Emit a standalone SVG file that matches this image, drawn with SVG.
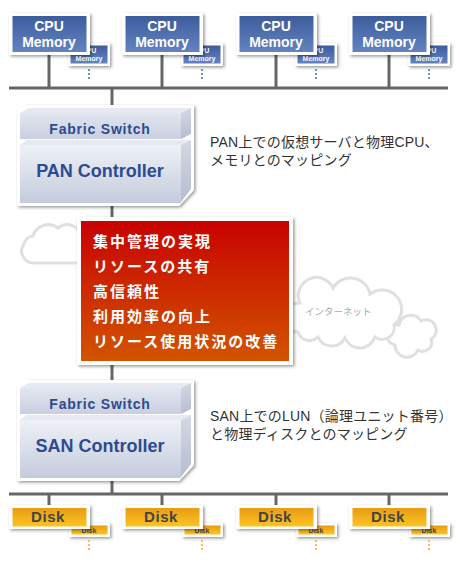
<svg xmlns="http://www.w3.org/2000/svg" width="460" height="565" viewBox="0 0 460 565">
<defs>
<filter id="sh" x="-20%" y="-20%" width="150%" height="160%">
<feDropShadow dx="1.5" dy="1.5" stdDeviation="1.5" flood-color="#000" flood-opacity="0.4"/>
</filter>
<linearGradient id="gBlue" x1="0" y1="0" x2="0" y2="1">
<stop offset="0" stop-color="#3e5c9c"/><stop offset="1" stop-color="#6283c0"/>
</linearGradient>
<linearGradient id="gOr" x1="0" y1="0" x2="0" y2="1">
<stop offset="0" stop-color="#e89c14"/><stop offset="1" stop-color="#fcc424"/>
</linearGradient>
<linearGradient id="gRed" x1="0" y1="0" x2="0" y2="1">
<stop offset="0" stop-color="#c80200"/><stop offset="1" stop-color="#d25400"/>
</linearGradient>
<linearGradient id="gFront" x1="0" y1="0" x2="0" y2="1">
<stop offset="0" stop-color="#eef1f7"/><stop offset="1" stop-color="#c5cbdc"/>
</linearGradient>
<linearGradient id="gBand" x1="0" y1="0" x2="0" y2="1">
<stop offset="0" stop-color="#e2e6f0"/><stop offset="1" stop-color="#c9cfdf"/>
</linearGradient>
<linearGradient id="gSide" x1="0" y1="0" x2="0" y2="1">
<stop offset="0" stop-color="#d3d8e4"/><stop offset="1" stop-color="#b6bdcf"/>
</linearGradient>
<style>
.line{stroke:#666;stroke-width:3;fill:none}
.white{fill:#fff;filter:url(#sh)}
.blue{fill:url(#gBlue)}
.org{fill:url(#gOr)}
.t{font-family:"Liberation Sans",Arial,sans-serif;font-weight:bold;text-anchor:middle}
.cpu{fill:#fff;font-size:14px}
.cpus{fill:#fff;font-size:7px}
.disk{fill:#454545;font-size:15px;letter-spacing:0.6px}
.disks{fill:#454545;font-size:7px}
.dotb{stroke:#6a8ed0;stroke-width:2;stroke-dasharray:2 2}
.doto{stroke:#f8c050;stroke-width:2;stroke-dasharray:2 2}
.fs{fill:#2c4b92;font-size:14px;letter-spacing:0.8px}
.ctl{fill:#2c4b92;font-size:18px}
.jp{font-family:"Liberation Sans","Noto Sans CJK JP",sans-serif;font-size:14px;letter-spacing:0.2px;fill:#333}
.red{font-family:"Noto Sans CJK JP",sans-serif;font-weight:bold;font-size:15px;fill:#fff;letter-spacing:2px}
.cloud{fill:#fff;stroke:#e0e0e0;stroke-width:3}
.front{fill:url(#gFront)}
.band{fill:url(#gBand)}
.side{fill:url(#gSide)}
.top{fill:#e6e9f1}
</style>
</defs>
<rect width="460" height="565" fill="#fff"/>

<g id="clouds">
<path class="cloud" d="M35 263 A12 12 0 0 1 24 244 A10 10 0 0 1 33 236 A16 16 0 0 1 58 228 A14 14 0 0 1 80 233 L86 263 Z"/>
<path class="cloud" d="M395 345 A9 9 0 0 1 399 325 A12 12 0 0 1 421 321 A10 10 0 0 1 431 339 A9 9 0 0 1 418 350 A12 12 0 0 1 395 345 Z"/>
<path class="cloud" d="M298 332 A14 14 0 0 1 300 303 A17 17 0 0 1 333 288 A20 20 0 0 1 370 294 A15 15 0 0 1 394 325 A12 12 0 0 1 375 337 A16 16 0 0 1 345 338 A15 15 0 0 1 318 337 A12 12 0 0 1 298 332 Z"/>
<text x="305" y="315" font-family="Noto Sans CJK JP,sans-serif" font-size="9.5" fill="#aaa">インターネット</text>
</g>

<g id="connectors">
<line class="line" x1="9" y1="88" x2="448" y2="88"/>
<line class="line" x1="9" y1="494" x2="448" y2="494"/>
<line class="line" x1="112" y1="88" x2="112" y2="494"/>
<line class="line" x1="49" y1="54" x2="49" y2="88"/>
<line class="line" x1="162" y1="54" x2="162" y2="88"/>
<line class="line" x1="276" y1="54" x2="276" y2="88"/>
<line class="line" x1="389" y1="54" x2="389" y2="88"/>
<line class="line" x1="49" y1="494" x2="49" y2="506"/>
<line class="line" x1="162" y1="494" x2="162" y2="506"/>
<line class="line" x1="276" y1="494" x2="276" y2="506"/>
<line class="line" x1="389" y1="494" x2="389" y2="506"/>
</g>

<g id="cpu1">
<rect class="white" x="68" y="43" width="42" height="23"/>
<rect class="blue" x="70.5" y="45.5" width="37" height="18"/>
<text class="t cpus" x="89" y="53">CPU</text><text class="t cpus" x="89" y="61">Memory</text>
<line class="dotb" x1="89" y1="69" x2="89" y2="81"/>
<rect class="white" x="9" y="13" width="81" height="42"/>
<rect class="blue" x="12.5" y="16" width="74" height="36"/>
<text class="t cpu" x="49" y="31">CPU</text><text class="t cpu" x="49" y="47">Memory</text>
</g>
<g id="cpu2">
<rect class="white" x="181" y="43" width="42" height="23"/>
<rect class="blue" x="183.5" y="45.5" width="37" height="18"/>
<text class="t cpus" x="202" y="53">CPU</text><text class="t cpus" x="202" y="61">Memory</text>
<line class="dotb" x1="202" y1="69" x2="202" y2="81"/>
<rect class="white" x="122" y="13" width="81" height="42"/>
<rect class="blue" x="125.5" y="16" width="74" height="36"/>
<text class="t cpu" x="162" y="31">CPU</text><text class="t cpu" x="162" y="47">Memory</text>
</g>
<g id="cpu3">
<rect class="white" x="295" y="43" width="42" height="23"/>
<rect class="blue" x="297.5" y="45.5" width="37" height="18"/>
<text class="t cpus" x="316" y="53">CPU</text><text class="t cpus" x="316" y="61">Memory</text>
<line class="dotb" x1="316" y1="69" x2="316" y2="81"/>
<rect class="white" x="236" y="13" width="81" height="42"/>
<rect class="blue" x="239.5" y="16" width="74" height="36"/>
<text class="t cpu" x="276" y="31">CPU</text><text class="t cpu" x="276" y="47">Memory</text>
</g>
<g id="cpu4">
<rect class="white" x="408" y="43" width="42" height="23"/>
<rect class="blue" x="410.5" y="45.5" width="37" height="18"/>
<text class="t cpus" x="429" y="53">CPU</text><text class="t cpus" x="429" y="61">Memory</text>
<line class="dotb" x1="429" y1="69" x2="429" y2="81"/>
<rect class="white" x="349" y="13" width="81" height="42"/>
<rect class="blue" x="352.5" y="16" width="74" height="36"/>
<text class="t cpu" x="389" y="31">CPU</text><text class="t cpu" x="389" y="47">Memory</text>
</g>

<g id="pan">
<polygon class="white" points="17,111 26,105 194,105 194,190 179,206 17,206"/>
<polygon class="top" points="20,113 29,108 191,108 181,113"/>
<polygon class="side" points="181,113 191,108 191,134 181,139"/>
<rect class="band" x="20" y="113" width="161" height="26"/>
<polygon class="top" points="20,145 27,140 191,140 181,145"/>
<polygon class="side" points="181,145 191,140 191,189 181,202"/>
<rect class="front" x="20" y="145" width="161" height="58"/>
<text class="t fs" x="100" y="134">Fabric Switch</text>
<text class="t ctl" x="100" y="177">PAN Controller</text>
</g>
<g id="pan-note">
<text class="jp" x="210" y="147">PAN上での仮想サーバと物理CPU、</text>
<text class="jp" x="210" y="165">メモリとのマッピング</text>
</g>

<g id="benefits">
<rect class="white" x="77" y="217" width="216" height="148"/>
<rect fill="url(#gRed)" x="81" y="221" width="208" height="140"/>
<text class="red" x="93" y="247">集中管理の実現</text>
<text class="red" x="93" y="272">リソースの共有</text>
<text class="red" x="93" y="297">高信頼性</text>
<text class="red" x="93" y="322">利用効率の向上</text>
<text class="red" x="93" y="347">リソース使用状況の改善</text>
</g>

<g id="san">
<polygon class="white" points="17,386 26,380 194,380 194,465 179,481 17,481"/>
<polygon class="top" points="20,388 29,383 191,383 181,388"/>
<polygon class="side" points="181,388 191,383 191,409 181,414"/>
<rect class="band" x="20" y="388" width="161" height="26"/>
<polygon class="top" points="20,420 27,415 191,415 181,420"/>
<polygon class="side" points="181,420 191,415 191,464 181,477"/>
<rect class="front" x="20" y="420" width="161" height="58"/>
<text class="t fs" x="100" y="409">Fabric Switch</text>
<text class="t ctl" x="100" y="452">SAN Controller</text>
</g>
<g id="san-note">
<text class="jp" x="210" y="421">SAN上でのLUN（論理ユニット番号）</text>
<text class="jp" x="210" y="439">と物理ディスクとのマッピング</text>
</g>

<g id="disk1">
<rect class="white" x="69" y="523" width="41" height="14"/>
<rect class="org" x="71.5" y="525.5" width="36" height="9"/>
<text class="t disks" x="89" y="533">Disk</text>
<line class="doto" x1="89" y1="540" x2="89" y2="552"/>
<rect class="white" x="9" y="505" width="81" height="24"/>
<rect class="org" x="12.5" y="508" width="74" height="18.5"/>
<text class="t disk" x="48" y="522">Disk</text>
</g>
<g id="disk2">
<rect class="white" x="182" y="523" width="41" height="14"/>
<rect class="org" x="184.5" y="525.5" width="36" height="9"/>
<text class="t disks" x="202" y="533">Disk</text>
<line class="doto" x1="202" y1="540" x2="202" y2="552"/>
<rect class="white" x="122" y="505" width="81" height="24"/>
<rect class="org" x="125.5" y="508" width="74" height="18.5"/>
<text class="t disk" x="161" y="522">Disk</text>
</g>
<g id="disk3">
<rect class="white" x="296" y="523" width="41" height="14"/>
<rect class="org" x="298.5" y="525.5" width="36" height="9"/>
<text class="t disks" x="316" y="533">Disk</text>
<line class="doto" x1="316" y1="540" x2="316" y2="552"/>
<rect class="white" x="236" y="505" width="81" height="24"/>
<rect class="org" x="239.5" y="508" width="74" height="18.5"/>
<text class="t disk" x="275" y="522">Disk</text>
</g>
<g id="disk4">
<rect class="white" x="409" y="523" width="41" height="14"/>
<rect class="org" x="411.5" y="525.5" width="36" height="9"/>
<text class="t disks" x="429" y="533">Disk</text>
<line class="doto" x1="429" y1="540" x2="429" y2="552"/>
<rect class="white" x="349" y="505" width="81" height="24"/>
<rect class="org" x="352.5" y="508" width="74" height="18.5"/>
<text class="t disk" x="388" y="522">Disk</text>
</g>
</svg>
